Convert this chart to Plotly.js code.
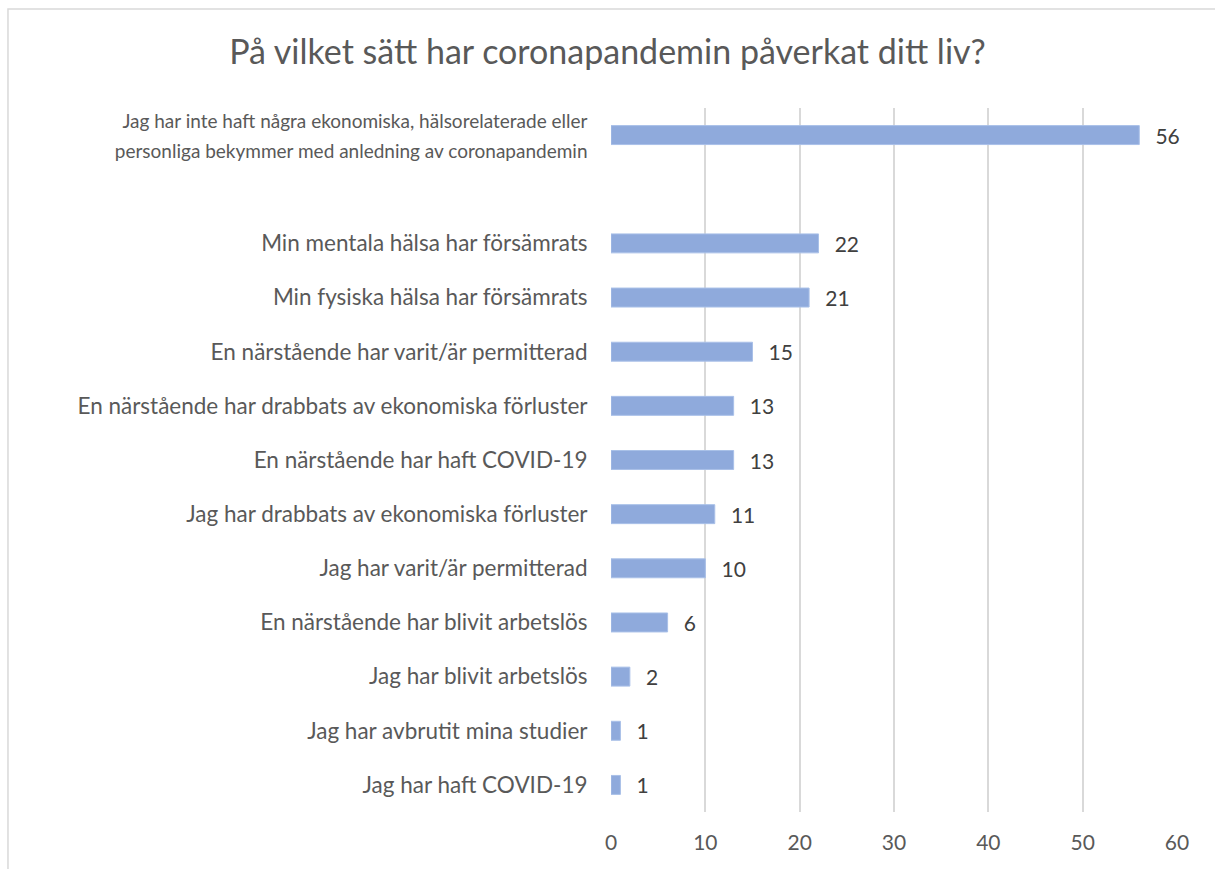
<!DOCTYPE html>
<html>
<head>
<meta charset="utf-8">
<script src="https://cdn.plot.ly/plotly-3.0.1.min.js"></script>
<style>
  html, body { margin: 0; padding: 0; background: #fff; }
  #chart { width: 1215px; height: 869px; }
</style>
</head>
<body>
<div id="chart"></div>
<script>
// Answers, top to bottom (the blank entry is the empty row under the first bar)
const answers = [
  'Jag har inte haft några ekonomiska, hälsorelaterade eller<br>personliga bekymmer med anledning av coronapandemin',
  ' ',
  'Min mentala hälsa har försämrats',
  'Min fysiska hälsa har försämrats',
  'En närstående har varit/är permitterad',
  'En närstående har drabbats av ekonomiska förluster',
  'En närstående har haft COVID-19',
  'Jag har drabbats av ekonomiska förluster',
  'Jag har varit/är permitterad',
  'En närstående har blivit arbetslös',
  'Jag har blivit arbetslös',
  'Jag har avbrutit mina studier',
  'Jag har haft COVID-19'
];
const counts = [56, null, 22, 21, 15, 13, 13, 11, 10, 6, 2, 1, 1];

const xTicks = [0, 10, 20, 30, 40, 50, 60];

const font = 'Lato, "Open Sans", sans-serif';

// the wrapped two-line label is drawn a bit smaller, as in the original
const tickText = answers.map(a => a.includes('<br>')
  ? '<span style="font-size:19px">' + a + '</span>'
  : a);

const trace = {
  type: 'bar',
  orientation: 'h',
  y: answers,
  x: counts,
  marker: { color: '#8faadc', line: { color: '#a9c0e8', width: 1 } },
  texttemplate: '\u2002\u2009%{x}',
  textposition: 'outside',
  constraintext: 'none',
  cliponaxis: false,
  textfont: { family: font, size: 21, color: '#404040' },
  hoverinfo: 'x+y'
};

const layout = {
  width: 1215,
  height: 869,
  margin: { l: 611, r: 38, t: 108, b: 57 },
  paper_bgcolor: '#ffffff',
  plot_bgcolor: '#ffffff',
  font: { family: font, color: '#595959' },
  title: {
    text: 'På vilket sätt har coronapandemin påverkat ditt liv?',
    font: { family: font, size: 34, color: '#595959' },
    x: 0.5,
    xanchor: 'center',
    yref: 'container',
    y: 0.94,
    yanchor: 'middle'
  },
  bargap: 0.65,
  showlegend: false,
  xaxis: {
    range: [0, 60],
    tickvals: xTicks,
    showgrid: true,
    gridcolor: '#d9d9d9',
    gridwidth: 2,
    zeroline: false,
    showline: false,
    ticks: 'outside',
    ticklen: 12,
    tickcolor: 'rgba(0,0,0,0)',
    tickfont: { family: font, size: 21, color: '#595959' },
    fixedrange: true
  },
  yaxis: {
    type: 'category',
    autorange: 'reversed',
    tickmode: 'array',
    tickvals: answers,
    ticktext: tickText,
    showgrid: false,
    zeroline: false,
    showline: false,
    ticks: 'outside',
    ticklen: 18,
    tickcolor: 'rgba(0,0,0,0)',
    tickfont: { family: font, size: 22.5, color: '#595959' },
    fixedrange: true
  },
  shapes: [{
    type: 'rect',
    xref: 'paper', yref: 'paper',
    x0: -1.0654, x1: 1.07,
    y0: -0.09, y1: 1.1406,
    line: { color: '#d9d9d9', width: 1.5 },
    fillcolor: 'rgba(0,0,0,0)',
    layer: 'below'
  }]
};

Plotly.newPlot('chart', [trace], layout, { displayModeBar: false, staticPlot: true });
</script>
</body>
</html>
